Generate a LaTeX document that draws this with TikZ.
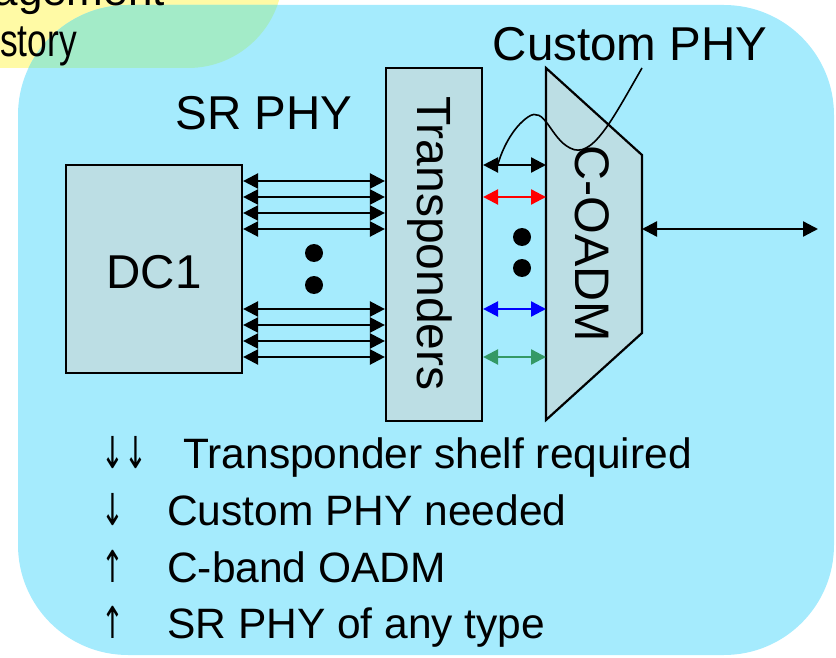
\documentclass[tikz,border=0pt]{standalone}
\usepackage{fontspec}
\setmainfont{Liberation Sans}
\newfontfamily\narrowfont[FakeStretch=0.77]{Liberation Sans}
\newfontfamily\arrowfont[FakeStretch=0.62]{DejaVu Sans}
\usetikzlibrary{arrows.meta}
\definecolor{bgcyan}{RGB}{165,235,253}
\definecolor{bgyellow}{RGB}{255,250,165}
\definecolor{bggreen}{RGB}{163,235,200}
\definecolor{boxfill}{RGB}{188,222,228}
\definecolor{arrgreen}{RGB}{52,153,102}
\begin{document}
\begin{tikzpicture}[x=1pt,y=-1pt,
  lbl/.style={font=\fontsize{47.5}{56}\selectfont, inner sep=0pt},
  lst/.style={font=\fontsize{42.5}{50}\selectfont, inner sep=0pt, anchor=base west},
  arw/.style={font=\arrowfont\fontsize{44}{50}\selectfont, inner sep=0pt, anchor=base west},
  corner/.style={font=\narrowfont\fontsize{46}{54}\selectfont, inner sep=0pt, anchor=base east},
  blk/.style={draw=black, line width=2.2pt, fill=boxfill},
  link/.style={line width=2.4pt, {Triangle[length=15pt,width=15pt]}-{Triangle[length=15pt,width=15pt]}},
  dot/.style={circle, fill=black, minimum size=18pt, inner sep=0pt}]
\useasboundingbox (0,0) rectangle (836,658);
\clip (0,0) rectangle (836,658);
% backgrounds
\fill[bgyellow] (-200,-200) [rounded corners=95pt] rectangle (283,68);
\fill[bgcyan] (18,5) [rounded corners=110pt] rectangle (834,655);
\begin{scope}
  \clip (18,5) [rounded corners=110pt] rectangle (834,655);
  \fill[bggreen] (-200,-200) [rounded corners=95pt] rectangle (283,68);
\end{scope}
\node[corner, font=\fontsize{44}{54}\selectfont] (t1) at (165,6) {agement};
\node[corner] (t2) at (77,57) {story};
% boxes
\node[blk, minimum width=176pt, minimum height=208pt, inner sep=0pt] (dc) at (154,269) {};
\node[lbl] (dcl) at (154,272) {DC1};
\node[blk, minimum width=96pt, minimum height=353pt, inner sep=0pt] (tr) at (434,244.5) {};
\node[lbl, font=\fontsize{48}{56}\selectfont, rotate=-90, anchor=base] (trl) at (417,243.5) {Transponders};
\draw[blk] (546,68) -- (642,155) -- (642,333) -- (546,420) -- cycle;
\coordinate (oa) at (642,229);
\node[lbl, font=\fontsize{48.5}{56}\selectfont, rotate=-90, anchor=base] (oal) at (575,244) {C-OADM};
% labels
\node[lbl, anchor=base] (sr) at (264,130) {SR PHY};
\node[lbl, anchor=base] (cp) at (630,61) {Custom PHY};
% DC1 <-> Transponders
\foreach \y in {181,197,213,229,309,325,341,357}{
  \draw[link] (dc.east |- 0,\y) -- (tr.west |- 0,\y);
}
\node[dot] (d1) at (314,253) {};
\node[dot] (d2) at (314,285) {};
% Transponders <-> C-OADM
\coordinate (c1) at (546,165);
\coordinate (c2) at (546,197);
\coordinate (c3) at (546,309);
\coordinate (c4) at (546,357);
\draw[link] (tr.east |- c1) -- (c1);
\draw[link, red] (tr.east |- c2) -- (c2);
\draw[link, blue] (tr.east |- c3) -- (c3);
\draw[link, arrgreen] (tr.east |- c4) -- (c4);
\node[dot] (d3) at (522,237) {};
\node[dot] (d4) at (522,268) {};
% output
\coordinate (out) at (818,229);
\draw[link] (oa) -- (out);
% callout
\coordinate (cs) at (642,68);
\coordinate (ce) at (498,164);
\draw[line width=1.6pt] (cs) .. controls (612,120) and (592,160) .. (570,148)
  .. controls (550,138) and (545,105) .. (528,117)
  .. controls (512,128) and (502,150) .. (ce);
% bottom list
\node[arw] (l1a) at (101,468) {↓↓};
\node[lst] (l1) at (183,468) {Transponder shelf required};
\node[arw] (l2a) at (101,525) {↓};
\node[lst] (l2) at (167,525) {Custom PHY needed};
\node[arw] (l3a) at (101,582) {↑};
\node[lst] (l3) at (167,582) {C-band OADM};
\node[arw] (l4a) at (101,638) {↑};
\node[lst] (l4) at (167,638) {SR PHY of any type};
\end{tikzpicture}
\end{document}
